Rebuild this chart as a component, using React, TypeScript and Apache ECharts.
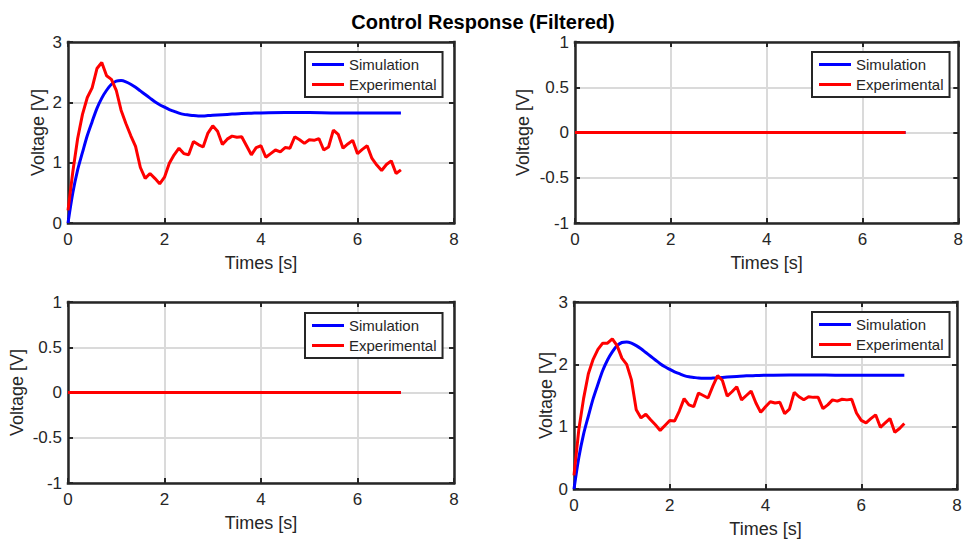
import { useEffect, useRef } from "react";
import * as echarts from "echarts";

// ---- Data ----
const simTime = [
  0, 0.1, 0.2, 0.3, 0.4, 0.5, 0.6, 0.7, 0.8, 0.9, 1.0, 1.1, 1.2, 1.3, 1.4, 1.5,
  1.6, 1.7, 1.8, 1.9, 2.0, 2.1, 2.2, 2.3, 2.4, 2.5, 2.6, 2.7, 2.8, 2.9, 3.0,
  3.2, 3.4, 3.6, 3.8, 4.0, 4.5, 5.0, 5.5, 6.0, 6.5, 6.9,
];
const simVoltage = [
  0, 0.5, 0.88, 1.17, 1.45, 1.68, 1.9, 2.07, 2.2, 2.3, 2.35, 2.36, 2.34, 2.3,
  2.25, 2.19, 2.13, 2.07, 2.01, 1.96, 1.92, 1.88, 1.85, 1.82, 1.8, 1.79, 1.78,
  1.775, 1.775, 1.78, 1.785, 1.795, 1.805, 1.815, 1.82, 1.825, 1.83, 1.83,
  1.825, 1.825, 1.825, 1.825,
];
const expTime = [
  0, 0.1, 0.2, 0.3, 0.4, 0.5, 0.6, 0.7, 0.8, 0.9, 1.0, 1.1, 1.2, 1.3, 1.4, 1.5,
  1.6, 1.7, 1.8, 1.9, 2.0, 2.1, 2.2, 2.3, 2.4, 2.5, 2.6, 2.7, 2.8, 2.9, 3.0,
  3.1, 3.2, 3.3, 3.4, 3.5, 3.6, 3.7, 3.8, 3.9, 4.0, 4.1, 4.2, 4.3, 4.4, 4.5,
  4.6, 4.7, 4.8, 4.9, 5.0, 5.1, 5.2, 5.3, 5.4, 5.5, 5.6, 5.7, 5.8, 5.9, 6.0,
  6.1, 6.2, 6.3, 6.4, 6.5, 6.6, 6.7, 6.8, 6.9,
];
const expTopLeft = [
  0.21, 0.85, 1.4, 1.8, 2.08, 2.24, 2.56, 2.66, 2.44, 2.38, 2.2, 1.87, 1.65,
  1.45, 1.27, 0.92, 0.74, 0.82, 0.74, 0.65, 0.76, 0.99, 1.13, 1.24, 1.15, 1.13,
  1.35, 1.3, 1.26, 1.49, 1.61, 1.52, 1.3, 1.39, 1.44, 1.42, 1.43, 1.28, 1.13,
  1.25, 1.28, 1.09, 1.15, 1.21, 1.18, 1.25, 1.24, 1.43, 1.38, 1.32, 1.38, 1.37,
  1.4, 1.21, 1.26, 1.54, 1.47, 1.24, 1.31, 1.37, 1.15, 1.22, 1.28, 1.07, 0.96,
  0.87, 0.97, 1.03, 0.82, 0.88,
];
const expBottomRight = [
  0.22, 0.95, 1.45, 1.85, 2.08, 2.24, 2.34, 2.34, 2.41, 2.3, 2.1, 2.0, 1.75,
  1.27, 1.14, 1.2, 1.11, 1.03, 0.94, 1.02, 1.1, 1.09, 1.25, 1.45, 1.35, 1.32,
  1.54, 1.5, 1.46, 1.65, 1.82, 1.74, 1.49, 1.56, 1.64, 1.43, 1.5, 1.57, 1.38,
  1.23, 1.32, 1.4, 1.38, 1.39, 1.21, 1.28, 1.55, 1.48, 1.43, 1.48, 1.47, 1.47,
  1.29, 1.35, 1.43, 1.41, 1.44, 1.43, 1.44, 1.22, 1.1, 1.06, 1.13, 1.19, 0.99,
  1.06, 1.13, 0.91, 0.97, 1.05,
];
const flatTime = [0, 6.9];
const flatSim = [0, 0];
const flatExp = [0, 0];

const seriesNames = ["Simulation", "Experimental"];
const titleText = "Control Response (Filtered)";
const xAxisName = "Times [s]";
const yAxisName = "Voltage [V]";

const zip = (t: number[], v: number[]) => t.map((x, i) => [x, v[i]]);

// ---- Layout of the four panels ----
const panels = [
  { left: 68, top: 42, width: 386, height: 181, ymin: 0, ymax: 3, yint: 1, yGap: 21, legLeft: 305, legTop: 52,
    sim: zip(simTime, simVoltage), exp: zip(expTime, expTopLeft) },
  { left: 575, top: 42, width: 385, height: 181, ymin: -1, ymax: 1, yint: 0.5, yGap: 43, legLeft: 812, legTop: 52,
    sim: zip(flatTime, flatSim), exp: zip(flatTime, flatExp) },
  { left: 68, top: 302, width: 386, height: 181, ymin: -1, ymax: 1, yint: 0.5, yGap: 42, legLeft: 305, legTop: 313,
    sim: zip(flatTime, flatSim), exp: zip(flatTime, flatExp) },
  { left: 574, top: 302, width: 383, height: 187, ymin: 0, ymax: 3, yint: 1, yGap: 19, legLeft: 812, legTop: 312,
    sim: zip(simTime, simVoltage), exp: zip(expTime, expBottomRight) },
];

const FONT = "'Liberation Sans', Arial, Helvetica, sans-serif";
const DARK = "#262626";
const GRIDLINE = "#dadada";

export default function App() {
  const ref = useRef<HTMLDivElement>(null);
  useEffect(() => {
    if (!ref.current) return;
    const chart = echarts.init(ref.current, undefined, { renderer: "svg" });
    const grid: any[] = [];
    const xAxis: any[] = [];
    const yAxis: any[] = [];
    const series: any[] = [];
    const legend: any[] = [];
    const tick = { show: true, inside: true, length: 5, lineStyle: { color: DARK, width: 2 } };
    const frame = { show: true, onZero: false, lineStyle: { color: DARK, width: 2.5, cap: "square" } };
    panels.forEach((p, i) => {
      grid.push({ left: p.left, top: p.top, width: p.width, height: p.height, show: false });
      xAxis.push({
        type: "value", gridIndex: i, min: 0, max: 8, interval: 2, position: "bottom",
        name: xAxisName, nameLocation: "middle", nameGap: 31,
        nameTextStyle: { fontFamily: FONT, fontSize: 18, color: DARK },
        axisLine: frame, axisTick: tick,
        axisLabel: { fontFamily: FONT, fontSize: 17, color: DARK, margin: 8 },
        splitLine: { show: true, lineStyle: { color: GRIDLINE, width: 2 } },
      });
      xAxis.push({
        type: "value", gridIndex: i, min: 0, max: 8, interval: 2, position: "top",
        axisLine: frame, axisTick: tick, axisLabel: { show: false }, splitLine: { show: false },
      });
      yAxis.push({
        type: "value", gridIndex: i, min: p.ymin, max: p.ymax, interval: p.yint, position: "left",
        name: yAxisName, nameLocation: "middle", nameGap: p.yGap, nameRotate: 90,
        nameTextStyle: { fontFamily: FONT, fontSize: 18, color: DARK },
        axisLine: frame, axisTick: tick,
        axisLabel: { fontFamily: FONT, fontSize: 17, color: DARK, margin: 6 },
        splitLine: { show: true, lineStyle: { color: GRIDLINE, width: 2 } },
      });
      yAxis.push({
        type: "value", gridIndex: i, min: p.ymin, max: p.ymax, interval: p.yint, position: "right",
        axisLine: frame, axisTick: tick, axisLabel: { show: false }, splitLine: { show: false },
      });
      series.push({
        name: seriesNames[0], type: "line", xAxisIndex: 2 * i, yAxisIndex: 2 * i,
        data: p.sim, showSymbol: false, symbol: "none", smooth: 0.3,
        lineStyle: { color: "#0000ff", width: 3 }, itemStyle: { color: "#0000ff" },
      });
      series.push({
        name: seriesNames[1], type: "line", xAxisIndex: 2 * i, yAxisIndex: 2 * i,
        data: p.exp, showSymbol: false, symbol: "none",
        lineStyle: { color: "#ff0000", width: 3 }, itemStyle: { color: "#ff0000" },
      });
      legend.push({
        data: seriesNames, orient: "vertical", left: p.legLeft, top: p.legTop,
        icon: "rect", itemWidth: 32, itemHeight: 3, itemGap: 5,
        padding: [5, 6, 5, 7], borderColor: DARK, borderWidth: 2, backgroundColor: "#fff",
        selectedMode: false,
        textStyle: { fontFamily: FONT, fontSize: 15, color: DARK, lineHeight: 15 },
      });
    });
    chart.setOption({
      animation: false,
      backgroundColor: "#fff",
      title: {
        text: titleText, left: "center", top: 7,
        textStyle: { fontFamily: FONT, fontSize: 20, fontWeight: "bold", color: "#000" },
      },
      grid, xAxis, yAxis, series, legend,
    });
    return () => chart.dispose();
  }, []);
  return (
    <div
      ref={ref}
      style={{ position: "fixed", left: 0, top: 0, width: 966, height: 544, background: "#fff" }}
    />
  );
}
